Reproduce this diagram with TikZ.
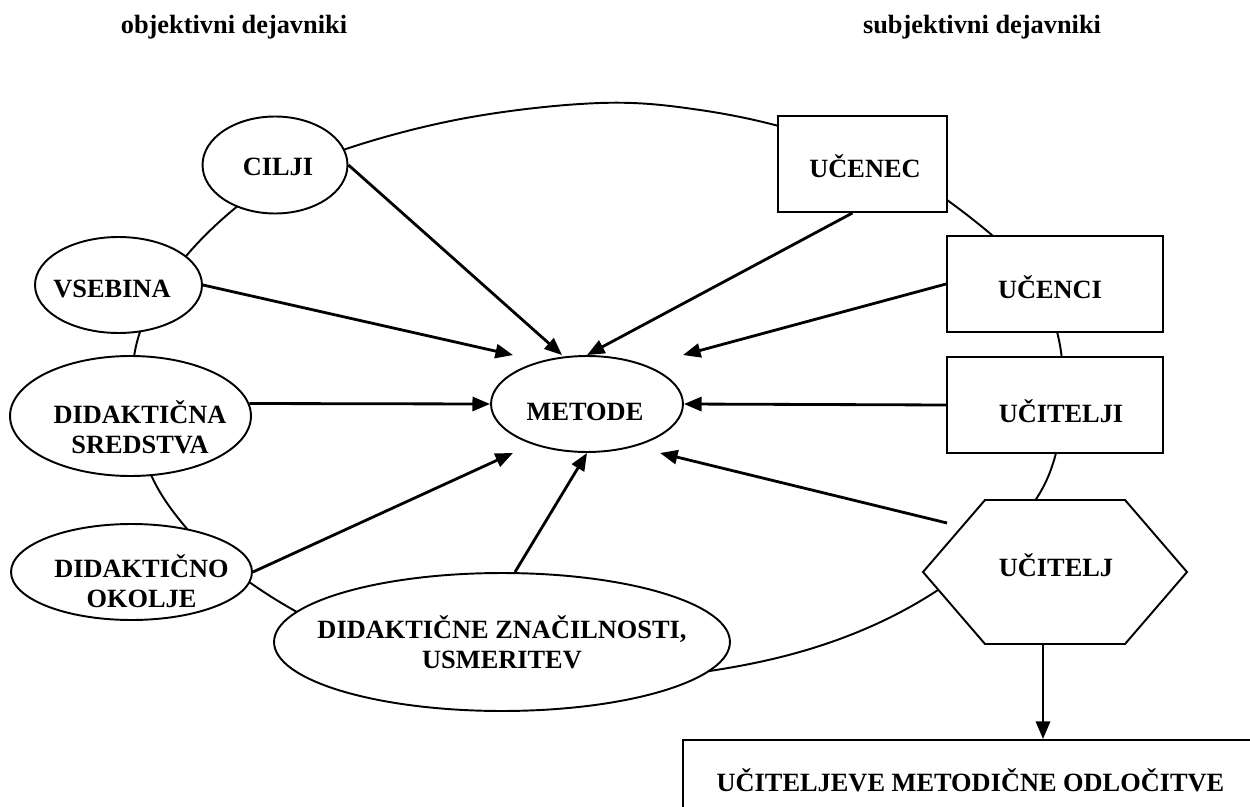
\documentclass[tikz,border=0pt]{standalone}
\usepackage{fontspec}
\setmainfont{Liberation Serif}
\usetikzlibrary{arrows.meta,shapes.geometric,calc}

\begin{document}
\begin{tikzpicture}[x=0.02cm,y=-0.02cm,
  every node/.style={font=\fontsize{15}{17}\selectfont\bfseries, align=center, inner sep=0pt},
  oval/.style={draw, ellipse, fill=white, line width=1.1pt},
  box/.style={draw, rectangle, fill=white, line width=1.1pt},
  ring/.style={line width=1.1pt},
  arr/.style={line width=1.6pt, -{Triangle[length=10pt,width=8pt]}},
  lbl/.style={font=\fontsize{15}{17}\selectfont\bfseries, align=center, inner sep=0pt}
]
\useasboundingbox (0,0) rectangle (1250,807);
\clip (0,0) rectangle (1250,807);

% column headings
\node (obj)  at (234,27) {objektivni dejavniki};
\node (subj) at (982,27) {subjektivni dejavniki};

% the ring that ties all factors together
\draw[ring] plot[smooth cycle, tension=0.6] coordinates {
  (343,150) (466,118) (600,103) (700,110) (800,132) (900,170)
  (993,236) (1040,290) (1062,360) (1056,453) (1020,520) (938,590)
  (837,640) (716,670) (560,684) (400,662) (297,612) (230,568)
  (188,530) (152,477) (133,410) (140,332) (187,255) (262,188)};

% objective factors
\node[oval, minimum width=2.9cm, minimum height=1.94cm,
  label={[lbl, xshift=0.06cm, yshift=-0.04cm]center:{CILJI}}] (cil) at (275,165) {};
\node[oval, minimum width=3.34cm, minimum height=1.92cm,
  label={[lbl, xshift=-0.13cm, yshift=-0.08cm]center:{VSEBINA}}] (vse) at (118.5,285) {};
\node[oval, minimum width=4.82cm, minimum height=2.4cm,
  label={[lbl, xshift=0.19cm, yshift=-0.22cm]center:{DIDAKTIČNA\\SREDSTVA}}] (sred) at (130.5,416) {};
\node[oval, minimum width=4.82cm, minimum height=1.92cm,
  label={[lbl, xshift=0.2cm, yshift=-0.18cm]center:{DIDAKTIČNO\\OKOLJE}}] (oko) at (131.5,572) {};
\node[oval, minimum width=9.12cm, minimum height=2.76cm,
  label={[lbl]center:{DIDAKTIČNE ZNAČILNOSTI,\\USMERITEV}}] (zn) at (502,642) {};

% centre
\node[oval, minimum width=3.84cm, minimum height=1.92cm,
  label={[lbl, xshift=-0.04cm, yshift=-0.16cm]center:{METODE}}] (met) at (587,404) {};

% subjective factors
\node[box, minimum width=3.38cm, minimum height=1.92cm,
  label={[lbl, xshift=0.05cm, yshift=-0.05cm]center:{UČENEC}}] (uce) at (862.5,164) {};
\node[box, minimum width=4.32cm, minimum height=1.92cm,
  label={[lbl, xshift=-0.1cm, yshift=-0.06cm]center:{UČENCI}}] (ucn) at (1055,284) {};
\node[box, minimum width=4.32cm, minimum height=1.92cm,
  label={[lbl, xshift=0.12cm, yshift=-0.12cm]center:{UČITELJI}}] (uci) at (1055,405) {};

% teacher hexagon
\coordinate (hc) at (1055,572);
\filldraw[line width=1.1pt, fill=white]
  ($(hc)+(-132,0)$) -- ($(hc)+(-70,-72)$) -- ($(hc)+(70,-72)$) --
  ($(hc)+(132,0)$) -- ($(hc)+(70,72)$) -- ($(hc)+(-70,72)$) -- cycle;
\node[minimum width=5.28cm, minimum height=2.88cm,
  label={[lbl, xshift=0.02cm, yshift=0.14cm]center:{UČITELJ}}] (ucj) at (hc) {};

% decisions box
\node[box, minimum width=11.5cm, minimum height=2cm,
  label={[lbl, yshift=0.2cm]center:{UČITELJEVE METODIČNE ODLOČITVE}}] (odl) at (970.5,790) {};

% influences on the methods
\draw[arr] (cil.east) -- ($(met.north)+(-25,0)$);
\draw[arr] (vse.east) -- ($(met.north)+(-74,0)$);
\draw[arr] (sred.6) -- (met.west);
\draw[arr] (oko.east) -- ($(met.south)+(-74,0)$);
\draw[arr] ($(zn.north)+(13,0)$) -- (met.south);
\draw[arr] ($(uce.south)+(-10,0)$) -- (met.north);
\draw[arr] (ucn.west) -- ($(met.north)+(96,0)$);
\draw[arr] (uci.west) -- (met.east);
\draw[arr] ($(ucj.center)+(-108,-49)$) -- ($(met.south)+(73,0)$);

% teacher leads to decisions
\coordinate (hb) at ($(ucj.south)+(-12,0)$);
\draw[arr] (hb) -- (hb |- odl.north);
\end{tikzpicture}
\end{document}
